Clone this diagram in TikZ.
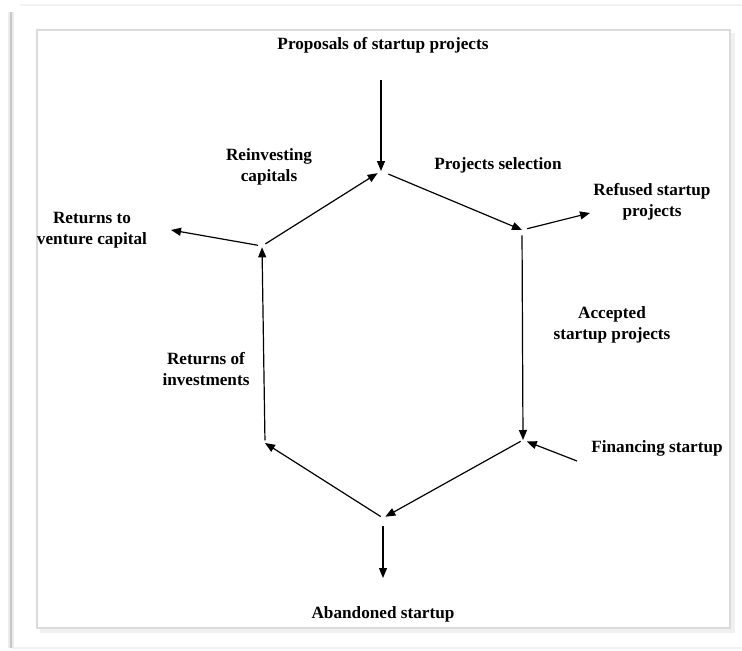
\documentclass[tikz,border=0pt]{standalone}
\usepackage{fontspec}
\setmainfont{Liberation Serif}
\usetikzlibrary{arrows.meta}
\begin{document}
\begin{tikzpicture}[x=0.75pt,y=-0.75pt,
  lbl/.style={font=\fontsize{12.9}{16}\selectfont\bfseries, align=center, inner sep=0pt},
  flow/.style={line width=0.9pt, -{Triangle[length=7.5pt,width=6pt]}}]
\useasboundingbox (0,0) rectangle (742,650);
% outer frame
\draw[gray!10, line width=1.5pt] (20,5) -- (742,5);
\draw[gray!10, line width=1.5pt] (12,648) -- (742,648);
\draw[gray!15, line width=5pt] (11,12) -- (11,648);
\draw[gray!45, line width=1.8pt] (11,12) -- (11,648);
% inner frame
\draw[gray!12, line width=2.5pt] (40,631) -- (733,631) -- (733,33);
\draw[gray!28, line width=1.3pt] (37,30) rectangle (730,628);
% hexagon vertices
\coordinate (vT) at (381,171);
\coordinate (vRT) at (522,230);
\coordinate (vRB) at (523,440);
\coordinate (vB) at (383,518);
\coordinate (vLB) at (265,443);
\coordinate (vLT) at (262,246);
% outer arrow ends
\coordinate (inTop) at (381,80);
\coordinate (outRef) at (590,213);
\coordinate (inFin) at (577,461);
\coordinate (outAb) at (383,578);
\coordinate (outRet) at (171,230);
% labels
\node[lbl] (prop) at (383,45) {Proposals of startup projects};
\node[lbl] (reinv) at (269,167) {Reinvesting\\capitals};
\node[lbl] (sel) at (498,165) {Projects selection};
\node[lbl] (ref) at (652,202) {Refused startup\\projects};
\node[lbl] (acc) at (612,325) {Accepted\\startup projects};
\node[lbl] (fin) at (657,448) {Financing startup};
\node[lbl] (aband) at (383,614) {Abandoned startup};
\node[lbl] (retinv) at (206,369) {Returns of\\investments};
\node[lbl] (retvc) at (92,230) {Returns to\\venture capital};
% connectors
\draw[flow] (inTop) -- (vT);
\draw[flow, shorten <=6pt] (vT) -- (vRT);
\draw[flow, shorten <=4pt] (vRT) -- (outRef);
\draw[flow, shorten <=4pt] (vRT) -- (vRB);
\draw[flow, shorten >=3pt] (inFin) -- (vRB);
\draw[flow, shorten <=2pt, shorten >=2pt] (vRB) -- (vB);
\draw[flow, shorten <=6pt] (vB) -- (outAb);
\draw[flow, shorten <=2pt] (vB) -- (vLB);
\draw[flow, shorten <=2pt, shorten >=1pt] (vLB) -- (vLT);
\draw[flow, shorten <=3pt] (vLT) -- (outRet);
\draw[flow, shorten <=3pt, shorten >=3pt] (vLT) -- (vT);
\end{tikzpicture}
\end{document}
